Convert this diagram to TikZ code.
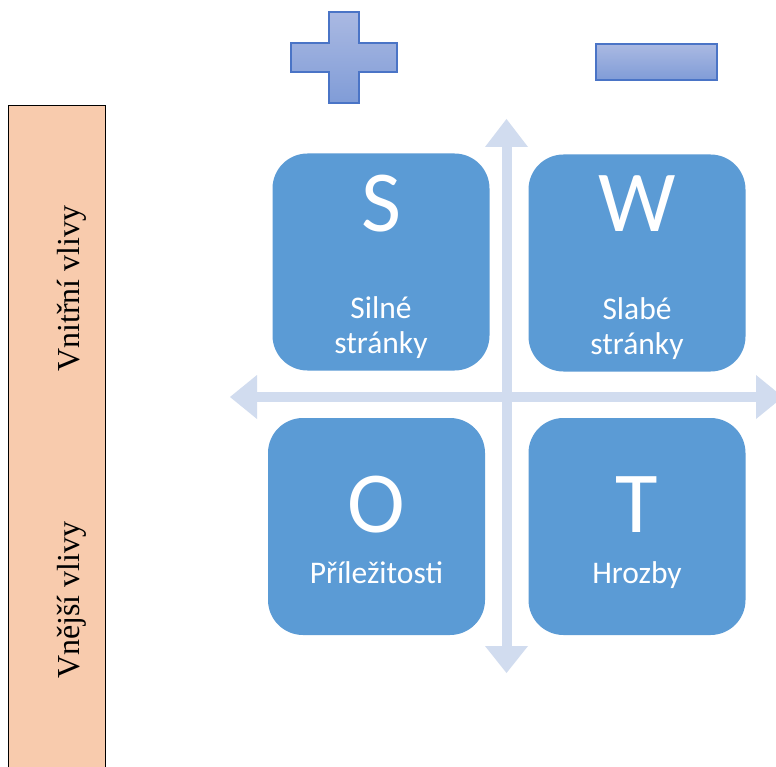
\documentclass[tikz,border=0pt]{standalone}
\usepackage{fontspec}
\setmainfont{Liberation Serif}
\newfontfamily\boxfont{Carlito}
\definecolor{boxblue}{HTML}{5B9BD5}
\definecolor{axiscol}{HTML}{D1DCEF}
\definecolor{peach}{HTML}{F8CBAD}
\definecolor{signedge}{HTML}{4A74C6}
\definecolor{signtop}{HTML}{AAB9E2}
\definecolor{signbot}{HTML}{809CD7}
\tikzset{
  quadrant/.style={fill=boxblue, draw=none, rounded corners=35pt,
    minimum width=217pt, minimum height=217pt, inner sep=0pt},
  bigletter/.style={text=white, anchor=base, inner sep=0pt,
    font=\boxfont\fontsize{87}{87}\selectfont},
  caption/.style={text=white, anchor=base, inner sep=0pt,
    font=\boxfont\fontsize{31.5}{31.5}\selectfont},
  sign/.style={draw=signedge, line width=1.5pt, top color=signtop, bottom color=signbot},
  axis/.style={fill=axiscol, draw=none},
  sidelabel/.style={rotate=90, anchor=base, inner sep=0pt,
    font=\fontsize{32}{32}\selectfont}
}
\begin{document}
\begin{tikzpicture}[x=1pt, y=-1pt]
\useasboundingbox (0,0) rectangle (776,767);
\clip (0,0) rectangle (776,767);
\fill[white] (0,0) rectangle (776,767);

% side band with the two influence labels
\draw[fill=peach, draw=black, line width=0.8pt] (8.5,105.5) rectangle (105.5,790);
\node[sidelabel] (inner) at (79,288.5) {Vnitřní vlivy};
\node[sidelabel] (outer) at (79,600) {Vnější vlivy};

% plus and minus signs
\path[sign] (329,12) -- (359,12) -- (359,43) -- (397,43) -- (397,72) -- (359,72)
  -- (359,103) -- (329,103) -- (329,72) -- (291,72) -- (291,43) -- (329,43) -- cycle;
\path[sign] (596,44) rectangle (717,80);

% four-way axis arrow
\path[axis] (501.5,146) rectangle (511.5,647);
\path[axis] (257,392) rectangle (757,402);
\path[axis] (485,147) -- (506.5,119) -- (528,147) -- cycle;
\path[axis] (485,646) -- (506.5,673) -- (528,646) -- cycle;
\path[axis] (257,375) -- (230,397) -- (257,419) -- cycle;
\path[axis] (756,375) -- (783,397) -- (756,419) -- cycle;

% quadrants
\node[quadrant] (S) at (381,262) {};
\node[quadrant] (W) at (637,263) {};
\node[quadrant] (O) at (376.5,526.5) {};
\node[quadrant] (T) at (637,526.5) {};

\node[bigletter] (sl) at (381,232) {S};
\node[caption] (s1) at (381,318) {Silné};
\node[caption] (s2) at (381,353) {stránky};

\node[bigletter] (wl) at (637,232) {W};
\node[caption] (w1) at (637,319) {Slabé};
\node[caption] (w2) at (637,354) {stránky};

\node[bigletter] (ol) at (376.5,532) {O};
\node[caption] (o1) at (376.5,583) {Příležitosti};

\node[bigletter] (tl) at (637,532) {T};
\node[caption] (t1) at (637,583) {Hrozby};
\end{tikzpicture}
\end{document}
